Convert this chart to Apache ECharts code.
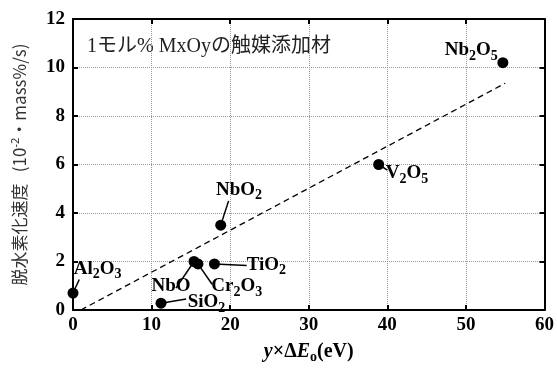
<!DOCTYPE html>
<html><head><meta charset="utf-8">
<script src="https://cdn.jsdelivr.net/npm/echarts@6/dist/echarts.min.js"></script>
<style>html,body{margin:0;padding:0;background:#fff}#c{width:557px;height:369px}</style>
</head><body><div id="c"></div>
<script>
var names = ['Al2O3','SiO2','NbO','Cr2O3','TiO2','NbO2','V2O5','Nb2O5'];
var labelsRich = ['Al{s|2}O{s|3}','SiO{s|2}','NbO','Cr{s|2}O{s|3}','TiO{s|2}','NbO{s|2}','V{s|2}O{s|5}','Nb{s|2}O{s|5}'];
var xVals = [0, 11.2, 15.4, 15.9, 18.0, 18.8, 38.9, 54.7];
var yVals = [0.7, 0.28, 2.0, 1.9, 1.9, 3.5, 6.0, 10.2];
// label anchor (left edge, middle of main text)
var labelX = [0.1, 14.6, 10.0, 17.6, 22.1, 18.2, 39.8, 47.3];
var labelY = [1.7, 0.33, 0.98, 0.98, 1.87, 4.96, 5.65, 10.7];
// leader line end points (start at the data point)
var leaderEnd = [[0.8,1.26],[14.4,0.45],[13.1,0.9],[17.7,1.06],[22.1,1.83],[19.8,4.5],[40.0,5.77],null];
var fitLine = [[1,0],[55,9.35]];
var xTicks = [0,10,20,30,40,50,60];
var yTicks = [0,2,4,6,8,10,12];

var pts = xVals.map(function(x,i){return [x,yVals[i]];});
var leaders = [];
leaderEnd.forEach(function(e,i){ if(e) leaders.push({coords:[[xVals[i],yVals[i]], e]}); });
var labs = labelX.map(function(x,i){return {value:[x,labelY[i]], label:{formatter:labelsRich[i]}};});

var serif = '"Liberation Serif","DejaVu Serif",serif';
var tickFont = {fontFamily:serif, fontWeight:'bold', fontSize:19, color:'#000'};
var axisCommon = {
  axisLine:{show:true, onZero:false, lineStyle:{color:'#000', width:2}},
  axisTick:{show:true, inside:true, length:5, lineStyle:{color:'#000', width:2}},
  splitLine:{show:false}
};
var chart = echarts.init(document.getElementById('c'));
chart.setOption({
  animation:false,
  grid:{left:73, right:9, top:19, bottom:55},
  xAxis:[
    Object.assign({type:'value', min:0, max:60, interval:10, position:'bottom',
      axisLabel:Object.assign({margin:6}, tickFont),
      name:'{i|y}{n|\u00d7\u0394}{i|E}{o|o}{n|(eV)}', nameLocation:'middle', nameGap:30,
      nameTextStyle:{rich:{
        i:{fontFamily:serif, fontStyle:'italic', fontWeight:'bold', fontSize:20, color:'#000'},
        n:{fontFamily:serif, fontWeight:'bold', fontSize:20, color:'#000'},
        o:{fontFamily:serif, fontWeight:'bold', fontSize:14, color:'#000', padding:[10,0,0,0]}
      }},
      splitLine:{show:true, lineStyle:{color:'#999', type:'dotted', width:1}}
    }, {axisLine:axisCommon.axisLine, axisTick:axisCommon.axisTick}),
    Object.assign({type:'value', min:0, max:60, interval:10, position:'top', axisLabel:{show:false}}, axisCommon)
  ],
  yAxis:[
    Object.assign({type:'value', min:0, max:12, interval:2, position:'left',
      axisLabel:Object.assign({margin:8}, tickFont),
      name:'脱水素化速度   (10{sup|-2}・mass%/s)', nameLocation:'middle', nameGap:44,
      nameTextStyle:{fontFamily:'"Noto Sans CJK JP","Noto Sans",sans-serif', fontSize:17, color:'#333',
        rich:{sup:{fontSize:11, padding:[0,0,8,0], fontFamily:'"Noto Sans",sans-serif', color:'#333'}}},
      splitLine:{show:true, lineStyle:{color:'#999', type:'dotted', width:1}}
    }, {axisLine:axisCommon.axisLine, axisTick:axisCommon.axisTick}),
    Object.assign({type:'value', min:0, max:12, interval:2, position:'right', axisLabel:{show:false}}, axisCommon)
  ],
  graphic:[{type:'text', left:87, top:37,
    style:{text:'1モル% MxOyの触媒添加材', font:'20px "Liberation Serif","Noto Sans CJK JP",serif', fill:'#222'}}],
  series:[
    {type:'line', data:fitLine, showSymbol:false, symbol:'none', silent:true,
      lineStyle:{color:'#000', width:1.3, type:[6,4]}},
    {type:'lines', coordinateSystem:'cartesian2d', data:leaders, silent:true,
      lineStyle:{color:'#000', width:1.5, opacity:1}},
    {type:'scatter', data:pts, symbol:'circle', symbolSize:11, itemStyle:{color:'#000', opacity:1}, z:5},
    {type:'scatter', data:labs, symbolSize:0, silent:true, itemStyle:{opacity:1},
      label:{show:true, position:'right', distance:0, fontFamily:serif, fontWeight:'bold', fontSize:19, color:'#000',
        rich:{s:{fontFamily:serif, fontWeight:'bold', fontSize:14, color:'#000', padding:[12,0,0,0]}}}}
  ]
});
</script></body></html>
